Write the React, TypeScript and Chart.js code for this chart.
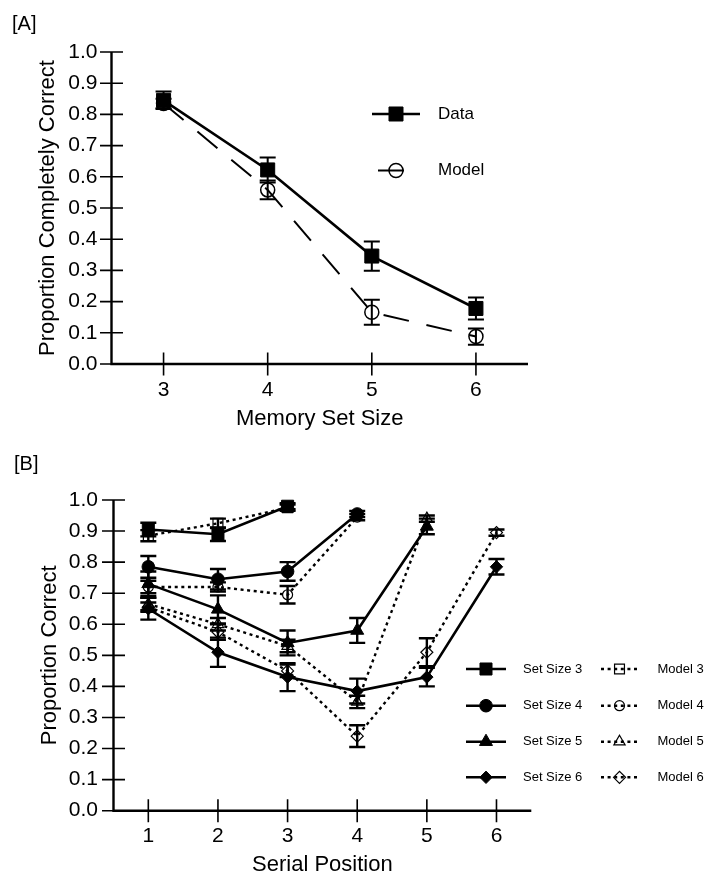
import React, { useEffect, useRef } from 'react';
import { Chart, registerables } from 'chart.js';
import { drawPoint } from 'chart.js/helpers';

Chart.register(...registerables);

const FONT = '"Liberation Sans", Arial, Helvetica, sans-serif';

// ---------- Panel A data ----------
const memorySetSizes = [3, 4, 5, 6];
const dataA = [0.845, 0.622, 0.346, 0.178];
const dataAErr = [0.028, 0.04, 0.047, 0.035];
const modelA = [0.835, 0.558, 0.166, 0.088];
const modelAErr = [0.015, 0.03, 0.04, 0.026];

// ---------- Panel B data ----------
const serialPositions = [1, 2, 3, 4, 5, 6];
const setSize3 = [0.905, 0.89, 0.98];
const setSize3Err = [0.022, 0.022, 0.01];
const model3 = [0.885, 0.925, 0.975];
const model3Err = [0.018, 0.015, 0.01];
const setSize4 = [0.785, 0.745, 0.77, 0.955];
const setSize4Err = [0.035, 0.033, 0.03, 0.01];
const model4 = [0.72, 0.72, 0.695, 0.945];
const model4Err = [0.02, 0.015, 0.028, 0.01];
const setSize5 = [0.73, 0.648, 0.54, 0.58, 0.915];
const setSize5Err = [0.04, 0.045, 0.04, 0.04, 0.025];
const model5 = [0.665, 0.6, 0.53, 0.35, 0.94];
const model5Err = [0.02, 0.02, 0.02, 0.02, 0.01];
const setSize6 = [0.65, 0.51, 0.43, 0.385, 0.43, 0.785];
const setSize6Err = [0.035, 0.047, 0.045, 0.04, 0.03, 0.025];
const model6 = [0.655, 0.575, 0.45, 0.24, 0.51, 0.895];
const model6Err = [0.015, 0.025, 0.02, 0.035, 0.045, 0.01];

const yTickValues = [0, 0.1, 0.2, 0.3, 0.4, 0.5, 0.6, 0.7, 0.8, 0.9, 1.0];

const toPoints = (xs: number[], ys: number[]) => ys.map((y, i) => ({ x: xs[i], y }));

type LegendItem = { index: number; x1: number; x2: number; xm: number; y: number; tx: number; dashOffset?: number };

function makeDecor(opts: {
  errors: (number[] | null)[];
  cap: number;
  errWidth: number;
  tick: number;
  axisWidth: number;
  tickWidth: number;
  legend: LegendItem[];
  legendFont: string;
  panel: string;
  panelX: number;
  panelY: number;
}) {
  return {
    id: 'decor',
    beforeDatasetsDraw(chart: any) {
      const { ctx, chartArea, scales } = chart;
      const { left, right, top, bottom } = chartArea;
      const x = scales.x, y = scales.y;
      ctx.save();
      ctx.strokeStyle = '#000';
      ctx.lineWidth = opts.axisWidth;
      ctx.beginPath();
      ctx.moveTo(left, top);
      ctx.lineTo(left, bottom);
      ctx.lineTo(right, bottom);
      ctx.stroke();
      ctx.lineWidth = opts.tickWidth;
      ctx.beginPath();
      for (const t of y.ticks) {
        const py = y.getPixelForValue(t.value);
        ctx.moveTo(left - opts.tick, py);
        ctx.lineTo(left + opts.tick, py);
      }
      for (const t of x.ticks) {
        const px = x.getPixelForValue(t.value);
        ctx.moveTo(px, bottom - opts.tick);
        ctx.lineTo(px, bottom + opts.tick);
      }
      ctx.stroke();
      ctx.restore();
    },
    afterDatasetsDraw(chart: any) {
      const { ctx, scales } = chart;
      const x = scales.x, y = scales.y;
      ctx.save();
      ctx.strokeStyle = '#000';
      ctx.lineWidth = opts.errWidth;
      ctx.setLineDash([]);
      chart.data.datasets.forEach((ds: any, i: number) => {
        const errs = opts.errors[i];
        if (!errs) return;
        ds.data.forEach((p: any, j: number) => {
          const px = x.getPixelForValue(p.x);
          const hi = y.getPixelForValue(p.y + errs[j]);
          const lo = y.getPixelForValue(p.y - errs[j]);
          ctx.beginPath();
          ctx.moveTo(px, hi);
          ctx.lineTo(px, lo);
          ctx.moveTo(px - opts.cap, hi);
          ctx.lineTo(px + opts.cap, hi);
          ctx.moveTo(px - opts.cap, lo);
          ctx.lineTo(px + opts.cap, lo);
          ctx.stroke();
        });
      });
      ctx.restore();
    },
    afterDraw(chart: any) {
      const { ctx } = chart;
      ctx.save();
      for (const it of opts.legend) {
        const ds = chart.data.datasets[it.index];
        ctx.strokeStyle = ds.borderColor;
        ctx.lineWidth = ds.borderWidth;
        ctx.setLineDash(ds.borderDash || []);
        ctx.lineDashOffset = it.dashOffset || 0;
        ctx.beginPath();
        ctx.moveTo(it.x1, it.y);
        ctx.lineTo(it.x2, it.y);
        ctx.stroke();
        ctx.setLineDash([]);
        ctx.lineDashOffset = 0;
        ctx.fillStyle = ds.pointBackgroundColor;
        ctx.strokeStyle = ds.pointBorderColor;
        ctx.lineWidth = ds.pointBorderWidth;
        drawPoint(ctx, { pointStyle: ds.pointStyle, radius: ds.pointRadius, rotation: 0, borderWidth: ds.pointBorderWidth } as any, it.xm, it.y);
        ctx.fillStyle = '#000';
        ctx.font = opts.legendFont;
        ctx.textAlign = 'left';
        ctx.textBaseline = 'middle';
        ctx.fillText(ds.label, it.tx, it.y);
      }
      ctx.fillStyle = '#000';
      ctx.font = `20px ${FONT}`;
      ctx.textAlign = 'left';
      ctx.textBaseline = 'alphabetic';
      ctx.fillText(opts.panel, opts.panelX, opts.panelY);
      ctx.restore();
    },
  };
}

function axisScales(cfg: {
  xMin: number; xMax: number; xTicks: number[]; xTitle: string; yTitle: string;
  yWidth: number; xHeight: number; yPad: number; xPad: number; yTitlePad: number; xTitlePad: number;
}) {
  return {
    x: {
      type: 'linear' as const,
      min: cfg.xMin,
      max: cfg.xMax,
      afterBuildTicks: (s: any) => { s.ticks = cfg.xTicks.map((v) => ({ value: v })); },
      afterFit: (s: any) => { s.height = cfg.xHeight; },
      grid: { display: false, drawTicks: false },
      border: { display: false },
      ticks: { padding: cfg.xPad, color: '#000', font: { family: FONT, size: 21 }, maxRotation: 0, callback: (v: any) => String(v) },
      title: { display: true, text: cfg.xTitle, color: '#000', font: { family: FONT, size: 22 }, padding: { top: 0, bottom: cfg.xTitlePad } },
    },
    y: {
      type: 'linear' as const,
      min: 0,
      max: 1,
      afterBuildTicks: (s: any) => { s.ticks = yTickValues.map((v) => ({ value: v })); },
      afterFit: (s: any) => { s.width = cfg.yWidth; },
      grid: { display: false, drawTicks: false },
      border: { display: false },
      ticks: { padding: cfg.yPad, color: '#000', font: { family: FONT, size: 21 }, callback: (v: any) => Number(v).toFixed(1) },
      title: { display: true, text: cfg.yTitle, color: '#000', font: { family: FONT, size: 22 }, padding: { top: cfg.yTitlePad, bottom: 0 } },
    },
  };
}

const solid = (label: string, data: any[], style: string, radius: number, width = 2.6) => ({
  label, data, borderColor: '#000', borderWidth: width, pointStyle: style, pointRadius: radius,
  pointBackgroundColor: '#000', pointBorderColor: '#000', pointBorderWidth: 1, clip: false as any,
});
const open = (label: string, data: any[], style: string, radius: number, dash: number[], width: number) => ({
  label, data, borderColor: '#000', borderWidth: width, borderDash: dash, pointStyle: style, pointRadius: radius,
  pointBackgroundColor: 'rgba(255,255,255,0)', pointBorderColor: '#000', pointBorderWidth: 1.2, clip: false as any,
});

function PanelA() {
  const ref = useRef<HTMLCanvasElement>(null);
  useEffect(() => {
    const datasets = [
      solid('Data', toPoints(memorySetSizes, dataA), 'rect', 9.9, 2.6),
      { ...open('Model', toPoints(memorySetSizes, modelA), 'circle', 7, [26, 18], 2), pointBorderWidth: 1.5 },
    ];
    const chart = new Chart(ref.current!, {
      type: 'line',
      data: { datasets: datasets as any },
      options: {
        responsive: false,
        animation: false,
        events: [],
        layout: { padding: { left: 0, top: 52, right: 195, bottom: 0 } },
        plugins: { legend: { display: false }, tooltip: { enabled: false } },
        scales: axisScales({
          xMin: 2.5, xMax: 6.5, xTicks: memorySetSizes, xTitle: 'Memory Set Size', yTitle: 'Proportion Completely Correct',
          yWidth: 111.5, xHeight: 76, yPad: 14, xPad: 13.4, yTitlePad: 34.9, xTitlePad: 7.8,
        }) as any,
      },
      plugins: [makeDecor({
        errors: [dataAErr, modelAErr], cap: 8, errWidth: 2, tick: 11.5, axisWidth: 2.4, tickWidth: 1.6,
        legend: [
          { index: 0, x1: 372, x2: 420, xm: 396, y: 114, tx: 438 },
          { index: 1, x1: 373, x2: 421, xm: 396, y: 170.5, tx: 438, dashOffset: -5 },
        ],
        legendFont: `17px ${FONT}`, panel: '[A]', panelX: 12, panelY: 30,
      }) as any],
    });
    return () => chart.destroy();
  }, []);
  return <canvas ref={ref} width={723} height={440} style={{ position: 'absolute', left: 0, top: 0, width: 723, height: 440 }} />;
}

function PanelB() {
  const ref = useRef<HTMLCanvasElement>(null);
  useEffect(() => {
    const dot = [3, 3.6];
    const datasets = [
      solid('Set Size 3', toPoints(serialPositions, setSize3), 'rect', 8.5),
      solid('Set Size 4', toPoints(serialPositions, setSize4), 'circle', 6.3),
      solid('Set Size 5', toPoints(serialPositions, setSize5), 'triangle', 7.5),
      solid('Set Size 6', toPoints(serialPositions, setSize6), 'rectRot', 6.2),
      open('Model 3', toPoints(serialPositions, model3), 'rect', 7, dot, 2.4),
      open('Model 4', toPoints(serialPositions, model4), 'circle', 5, dot, 2.4),
      open('Model 5', toPoints(serialPositions, model5), 'triangle', 6.5, dot, 2.4),
      open('Model 6', toPoints(serialPositions, model6), 'rectRot', 6, dot, 2.4),
    ];
    const rows = [229, 265.7, 301.7, 337.3];
    const legend: LegendItem[] = [];
    rows.forEach((y, i) => {
      legend.push({ index: i, x1: 466, x2: 506, xm: 486, y, tx: 523 });
      legend.push({ index: i + 4, x1: 601, x2: 638, xm: 619.5, y, tx: 657.5, dashOffset: 0 });
    });
    const chart = new Chart(ref.current!, {
      type: 'line',
      data: { datasets: datasets as any },
      options: {
        responsive: false,
        animation: false,
        events: [],
        layout: { padding: { left: 0, top: 60, right: 191.7, bottom: 0 } },
        plugins: { legend: { display: false }, tooltip: { enabled: false } },
        scales: axisScales({
          xMin: 0.5, xMax: 6.5, xTicks: serialPositions, xTitle: 'Serial Position', yTitle: 'Proportion Correct',
          yWidth: 113.5, xHeight: 69.3, yPad: 15.5, xPad: 13.4, yTitlePad: 36.6, xTitlePad: 1.5,
        }) as any,
      },
      plugins: [makeDecor({
        errors: [setSize3Err, setSize4Err, setSize5Err, setSize6Err, model3Err, model4Err, model5Err, model6Err],
        cap: 8, errWidth: 2.4, tick: 11.5, axisWidth: 2.4, tickWidth: 1.6,
        legend, legendFont: `13px ${FONT}`, panel: '[B]', panelX: 14, panelY: 30,
      }) as any],
    });
    return () => chart.destroy();
  }, []);
  return <canvas ref={ref} width={723} height={440} style={{ position: 'absolute', left: 0, top: 440, width: 723, height: 440 }} />;
}

export default function App() {
  return (
    <div style={{ position: 'absolute', left: 0, top: 0, width: 723, height: 880, background: '#fff' }}>
      <PanelA />
      <PanelB />
    </div>
  );
}
